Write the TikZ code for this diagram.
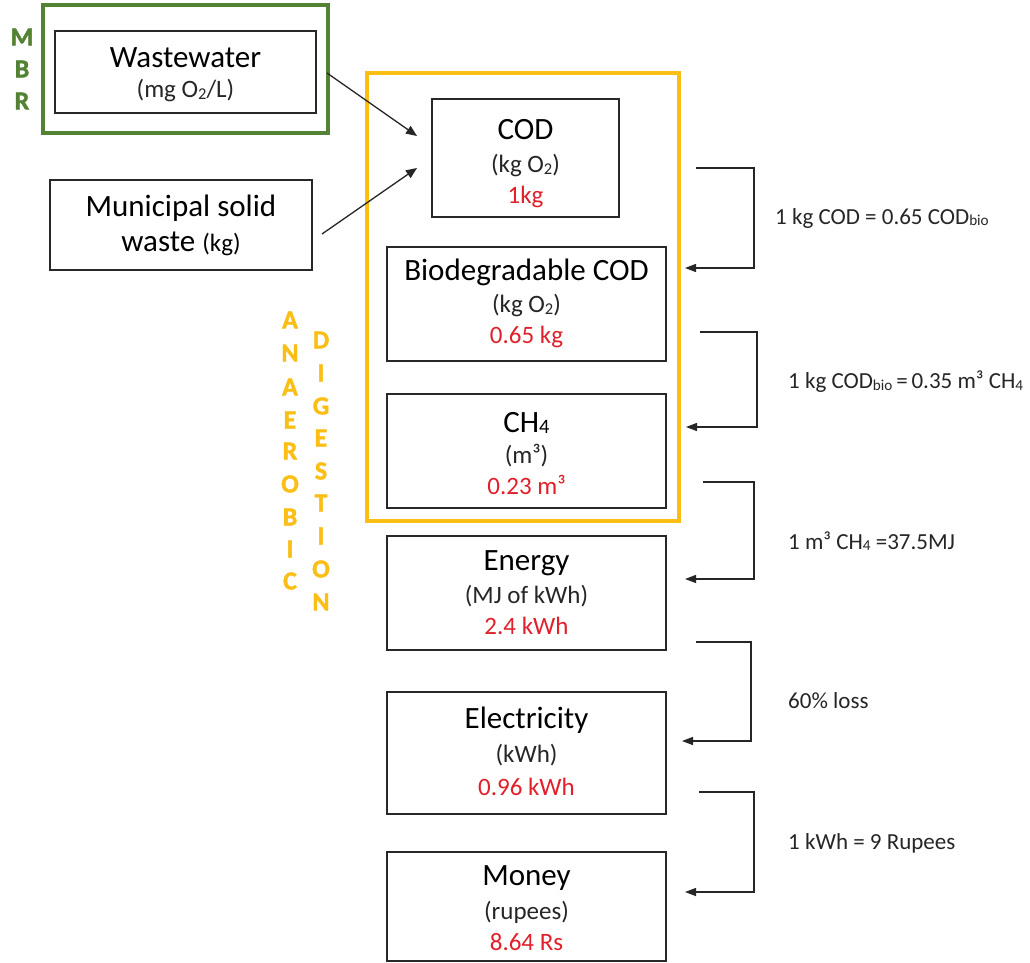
\documentclass[tikz,border=0pt]{standalone}
\usepackage{fontspec}
\setmainfont{Carlito}
\usetikzlibrary{arrows.meta,calc}

\definecolor{mbrgreen}{RGB}{84,130,53}
\definecolor{adyellow}{RGB}{250,190,20}
\definecolor{valred}{RGB}{224,32,42}
\definecolor{boxline}{RGB}{40,40,40}

\newcommand\fsmain{\fontsize{31}{36}\selectfont}
\newcommand\fsunit{\fontsize{25}{30}\selectfont}
\newcommand\fsval{\fontsize{25}{30}\selectfont}
\newcommand\fsnote{\fontsize{23}{27}\selectfont}
\newcommand\fsletter{\fontsize{26}{30}\selectfont\bfseries\addfontfeatures{FakeBold=1.5}}
% small index set near the baseline, as in O2, CH4, CODbio
\newcommand\lowidx[1]{\raisebox{-0.06em}{\scalebox{0.66}{#1}}}

\tikzset{
  box/.style={draw=boxline, line width=1.4pt, inner sep=0pt},
  frame/.style={line width=4pt, inner sep=0pt},
  title/.style={font=\fsmain, text=black, inner sep=0pt},
  unit/.style={font=\fsunit, text=black!85, inner sep=0pt},
  value/.style={font=\fsval, text=valred, inner sep=0pt},
  note/.style={font=\fsnote, text=black!85, inner sep=0pt, anchor=west},
  letter/.style={font=\fsletter, inner sep=0pt},
  flow/.style={line width=1.3pt, draw=black!85, -{Triangle[length=11pt,width=9pt]}},
  conv/.style={line width=1.3pt, draw=black!85, -{Triangle[length=11pt,width=8pt]}},
}

\begin{document}
\begin{tikzpicture}[x=1pt, y=-1pt]
  \useasboundingbox[fill=white] (0,0) rectangle (1030,963);

  % MBR frame around the wastewater input
  \node[frame, draw=mbrgreen, minimum width=285, minimum height=128] (mbr) at (185.5,69) {};
  \foreach \ch/\yy [count=\i] in {M/37, B/69, R/101}
    \node[letter, text=mbrgreen] (mbr\i) at (22,\yy) {\ch};

  % anaerobic digestion frame
  \node[frame, draw=adyellow, minimum width=312, minimum height=448] (ad) at (523,297) {};
  \foreach \ch/\yy [count=\i] in {A/320, N/353, A/387, E/420, R/451, O/484, B/517, I/549, C/581}
    \node[letter, text=adyellow] (ana\i) at (290,\yy) {\ch};
  \foreach \ch/\yy [count=\i] in {D/340, I/373, G/406, E/438, S/471, T/503, I/536, O/569, N/602}
    \node[letter, text=adyellow] (dig\i) at (321,\yy) {\ch};

  % input boxes
  \node[box, minimum width=261, minimum height=82] (ww) at (185.5,72) {};
  \node[title] (wwt) at (185.5,58) {Wastewater};
  \node[unit] (wwu) at (185.5,91) {(mg O\lowidx{2}/L)};

  \node[box, minimum width=262, minimum height=90] (msw) at (181,225) {};
  \node[title] (mswt) at (181,208) {Municipal solid};
  \node[title] (mswu) at (181,244) {waste {\fsunit(kg)}};

  % conversion chain
  \node[box, minimum width=187, minimum height=118] (cod) at (525.5,158) {};
  \node[title] (codt) at (525.5,130) {COD};
  \node[unit] (codu) at (525.5,166) {(kg O\lowidx{2})};
  \node[value] (codv) at (525.5,197) {1kg};

  \node[box, minimum width=279, minimum height=114] (bio) at (526.5,304) {};
  \node[title] (biot) at (526.5,272) {Biodegradable COD};
  \node[unit] (biou) at (526.5,306) {(kg O\lowidx{2})};
  \node[value] (biov) at (526.5,337) {0.65 kg};

  \node[box, minimum width=279, minimum height=114] (ch) at (526.5,451) {};
  \node[title] (cht) at (526.5,423) {CH\lowidx{4}};
  \node[unit] (chu) at (526.5,456) {(m³)};
  \node[value] (chv) at (526.5,485) {0.23 m³};

  \node[box, minimum width=279, minimum height=114] (en) at (526.5,593) {};
  \node[title] (ent) at (526.5,563) {Energy};
  \node[unit] (enu) at (526.5,596) {(MJ of kWh)};
  \node[value] (env) at (526.5,626) {2.4 kWh};

  \node[box, minimum width=279, minimum height=122] (el) at (526.5,753) {};
  \node[title] (elt) at (526.5,720) {Electricity};
  \node[unit] (elu) at (526.5,755) {(kWh)};
  \node[value] (elv) at (526.5,787) {0.96 kWh};

  \node[box, minimum width=279, minimum height=109] (mo) at (526.5,906.5) {};
  \node[title] (mot) at (526.5,878) {Money};
  \node[unit] (mou) at (526.5,912) {(rupees)};
  \node[value] (mov) at (526.5,942) {8.64 Rs};

  % inputs feeding the COD box
  \coordinate (wwout) at (327,73);
  \coordinate (codin1) at (417,136);
  \coordinate (mswout) at (322,234);
  \coordinate (codin2) at (417,168);
  \draw[flow] (wwout) -- (codin1);
  \draw[flow] (mswout) -- (codin2);

  % conversion brackets on the right
  \coordinate (s1) at (696,168);  \coordinate (e1) at (685,268);
  \coordinate (s2) at (700,332);  \coordinate (e2) at (686,427);
  \coordinate (s3) at (703,482);  \coordinate (e3) at (685,579);
  \coordinate (s4) at (696,642);  \coordinate (e4) at (682,741);
  \coordinate (s5) at (699,792);  \coordinate (e5) at (685,892);
  \draw[conv] (s1) -- (754,168) -- (754,268) -- (e1);
  \draw[conv] (s2) -- (757,332) -- (757,427) -- (e2);
  \draw[conv] (s3) -- (754,482) -- (754,579) -- (e3);
  \draw[conv] (s4) -- (751,642) -- (751,741) -- (e4);
  \draw[conv] (s5) -- (754,792) -- (754,892) -- (e5);

  \node[note] (n1) at (775,218) {1 kg COD = 0.65 COD\lowidx{bio}};
  \node[note] (n2) at (788,382) {1 kg COD\lowidx{bio}\,=\,0.35 m³ CH\lowidx{4}};
  \node[note] (n3) at (788,541) {1 m³ CH\lowidx{4} =37.5MJ};
  \node[note] (n4) at (788,701) {60\% loss};
  \node[note] (n5) at (788,843) {1 kWh = 9 Rupees};
\end{tikzpicture}
\end{document}
